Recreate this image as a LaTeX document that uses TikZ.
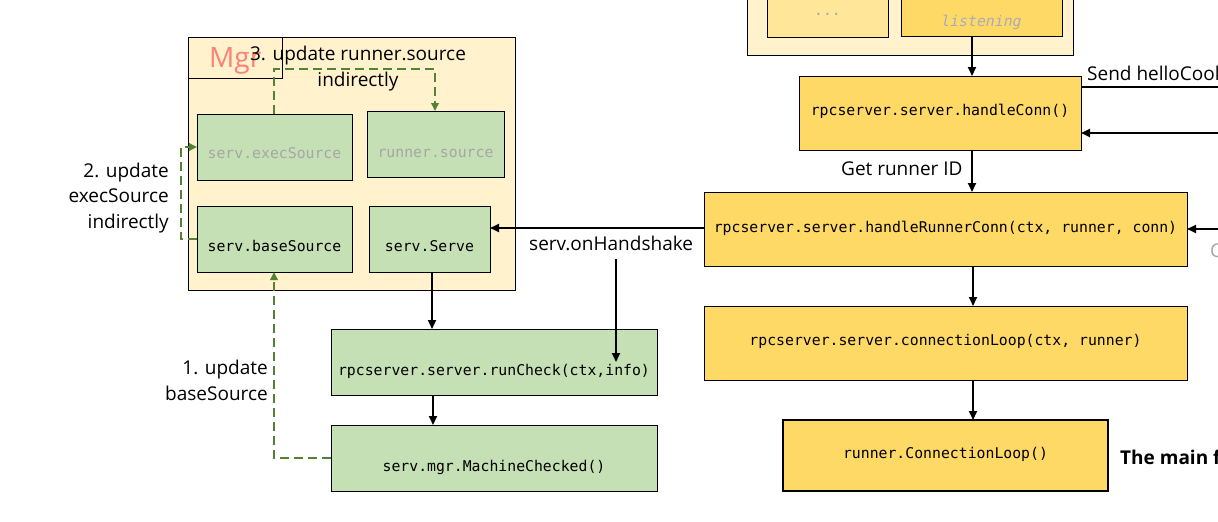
\documentclass[tikz,border=0pt]{standalone}
\usepackage{fontspec}
\setmainfont{Open Sans}
\newfontfamily\monof{DejaVu Sans Mono}
\usetikzlibrary{arrows.meta}
\definecolor{cream}{HTML}{FFF2CC}
\definecolor{gold}{HTML}{FFD966}
\definecolor{lgold}{HTML}{FFE699}
\definecolor{lgreen}{HTML}{C5E0B4}
\definecolor{dgreen}{HTML}{548235}
\definecolor{salmon}{RGB}{255,128,118}
\definecolor{greytxt}{HTML}{A6A6A6}
\definecolor{bluegrey}{RGB}{168,172,186}
\newcommand\rb[2]{\raisebox{#1pt}[0pt][0pt]{#2}}
% \bx{name}{x1}{y1}{x2}{y2}{style}{raise}{text}
\newcommand\bx[8]{\node[#6, minimum width={(#4-#2)*1pt}, minimum height={(#5-#3)*1pt}] (#1) at ({(#2+#4)/2},{(#3+#5)/2}) {\rb{#7}{#8}};}
\begin{document}
\begin{tikzpicture}[x=1pt,y=-1pt,
  boxbase/.style={draw=black, line width=0.9pt, inner sep=0pt, outer sep=0pt, font=\monof\fontsize{14.8}{18}\selectfont},
  goldbox/.style={boxbase, fill=gold},
  lgoldbox/.style={boxbase, fill=lgold},
  creambox/.style={boxbase, fill=cream},
  greenbox/.style={boxbase, fill=lgreen},
  lbl/.style={inner sep=0pt, font=\fontsize{19}{25.5}\selectfont},
  arr/.style={line width=1.8pt, -{Triangle[length=9pt,width=8pt]}},
  plain/.style={line width=1.8pt},
  gd/.style={draw=dgreen, line width=1.8pt, dash pattern=on 9pt off 5pt, -{Triangle[length=8pt,width=7.5pt]}}
]
\useasboundingbox (0,0) rectangle (1218,522);
\clip (0,0) rectangle (1218,522);
\fill[white] (0,0) rectangle (1218,522);

% top-right container
\bx{topC}{747}{-30}{1073}{55}{creambox}{0}{}
\bx{dots}{767}{-30}{888}{37}{lgoldbox, text=greytxt}{-12}{...}
\bx{listen}{901}{-30}{1062}{36}{goldbox, text=bluegrey}{-23}{\itshape listening}

% right column
\bx{hconn}{799}{76}{1081}{150}{goldbox}{-2}{rpcserver.server.handleConn()}
\bx{hrc}{704}{192}{1187}{266}{goldbox}{-3}{rpcserver.server.handleRunnerConn(ctx, runner, conn)}
\bx{cloop}{704}{306}{1187}{380}{goldbox}{-2}{rpcserver.server.connectionLoop(ctx, runner)}
\bx{rcl}{783}{420}{1108}{491}{goldbox, line width=2pt}{-2.5}{runner.ConnectionLoop()}

% Mgr container
\bx{mgr}{188}{37}{515}{290}{creambox}{0}{}
\bx{mgrtab}{188}{37}{282}{78}{creambox}{0}{}
\node[lbl, anchor=base west, text=salmon, font=\fontsize{28}{30}\selectfont] (mgrtxt) at (209,67) {Mgr};
\bx{exec}{197}{114}{352}{180}{greenbox, text=greytxt}{-11}{serv.execSource}
\bx{rsrc}{367}{111}{504}{177}{greenbox, text=greytxt}{-13}{runner.source}
\bx{base}{197}{206}{352}{272}{greenbox}{-12}{serv.baseSource}
\bx{serve}{369}{206}{490}{272}{greenbox}{-12}{serv.Serve}

% left lower boxes
\bx{rcheck}{331}{329}{657}{395}{greenbox}{-13}{rpcserver.server.runCheck(ctx,info)}
\bx{mc}{331}{425}{657}{491}{greenbox}{-13}{serv.mgr.MachineChecked()}

% labels (base anchor = baseline of last line)
\node[lbl, anchor=base, align=center] (lbl3) at (358,86) {3. update runner.source\\indirectly};
\node[lbl, anchor=base east, align=right] (lbl2) at (169,228) {2. update\\execSource\\indirectly};
\node[lbl, anchor=base east, align=right] (lbl1) at (268,400) {1. update\\baseSource};
\node[lbl, anchor=base west] (lblhs) at (529,250) {serv.onHandshake};
\node[lbl, anchor=base west] (lblid) at (841,175) {Get runner ID};
\node[lbl, anchor=base west] (lblsend) at (1087,80) {Send helloCookie};
\node[lbl, anchor=base west, font=\bfseries\fontsize{19}{25.5}\selectfont] (lblmain) at (1120,464) {The main function};
\node[lbl, anchor=base west, text=greytxt] (lblC) at (1210,257) {C};

% black connectors
\coordinate (cx1) at (972,0);
\draw[arr] (listen.south -| cx1) -- (hconn.north -| cx1);
\draw[arr] (hconn.south -| cx1) -- (hrc.north -| cx1);
\coordinate (cx2) at (973,0);
\draw[arr] (hrc.south -| cx2) -- (cloop.north -| cx2);
\draw[arr] (cloop.south -| cx2) -- (rcl.north -| cx2);
\coordinate (sendR) at (1240,87);
\draw[plain] (sendR -| hconn.east) -- (sendR);
\coordinate (retR) at (1240,133);
\draw[arr] (retR) -- (retR -| hconn.east);
\coordinate (inR) at (1240,229);
\draw[arr] (inR) -- (inR -| hrc.east);
\coordinate (hsy) at (0,228);
\draw[arr] (hsy -| hrc.west) -- (hsy -| serve.east);
\coordinate (hs) at (616,259);
\draw[arr] (hs) -- (hs |- rcheck.center);
\coordinate (cx3) at (432,0);
\draw[arr] (serve.south -| cx3) -- (rcheck.north -| cx3);
\coordinate (cx4) at (433,0);
\draw[arr] (rcheck.south -| cx4) -- (mc.north -| cx4);

% green dashed connectors
\coordinate (p3a) at (274,69);
\coordinate (p3b) at (435,69);
\draw[gd] (exec.north -| p3a) -- (p3a) -- (p3b) -- (rsrc.north -| p3b);
\coordinate (p2) at (181,0);
\draw[gd] (base.west) -- (base.west -| p2) -- (exec.west -| p2) -- (exec.west);
\coordinate (p1) at (274,0);
\draw[gd] (mc.west) -- (mc.west -| p1) -- (base.south -| p1);
\end{tikzpicture}
\end{document}
